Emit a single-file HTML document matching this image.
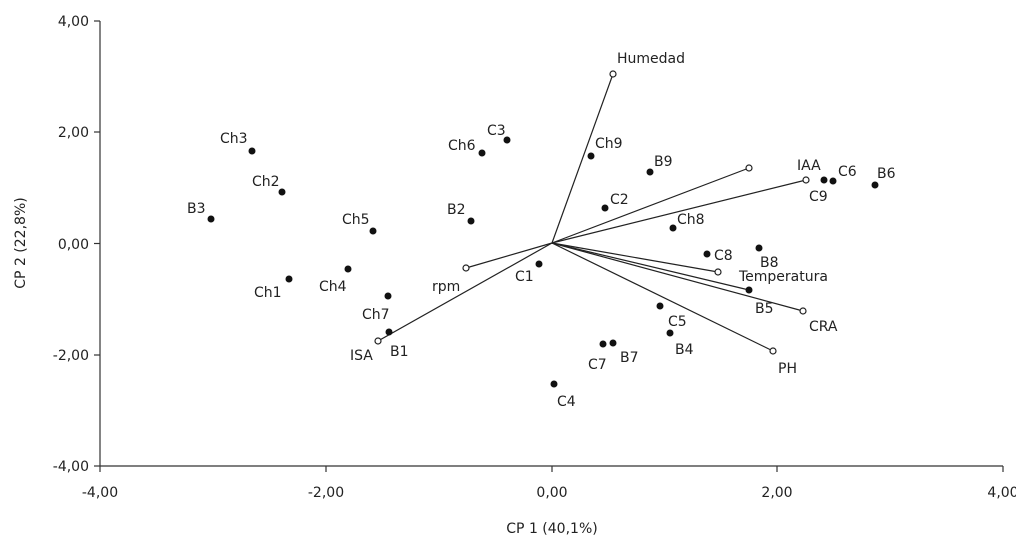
<!DOCTYPE html>
<html><head><meta charset="utf-8"><style>
body{margin:0;background:#fff}
svg text{font-family:"DejaVu Sans","Liberation Sans",sans-serif;font-size:14px;fill:#222}
</style></head><body>
<svg width="1016" height="551" viewBox="0 0 1016 551" xmlns="http://www.w3.org/2000/svg">
<g stroke="#333" stroke-width="1.2" fill="none">
<line x1="100" y1="21" x2="100" y2="466"/>
<line x1="100" y1="466" x2="1003" y2="466"/>
<line x1="94" y1="21" x2="100" y2="21"/>
<line x1="94" y1="132" x2="100" y2="132"/>
<line x1="94" y1="243.5" x2="100" y2="243.5"/>
<line x1="94" y1="355" x2="100" y2="355"/>
<line x1="94" y1="466" x2="100" y2="466"/>
<line x1="100" y1="466" x2="100" y2="472"/>
<line x1="326" y1="466" x2="326" y2="472"/>
<line x1="552" y1="466" x2="552" y2="472"/>
<line x1="777" y1="466" x2="777" y2="472"/>
<line x1="1003" y1="466" x2="1003" y2="472"/>
</g>
<g text-anchor="end">
<text x="89" y="26">4,00</text><text x="89" y="137">2,00</text><text x="89" y="249">0,00</text><text x="89" y="360">-2,00</text><text x="89" y="471">-4,00</text>
</g>
<g text-anchor="middle">
<text x="100" y="497">-4,00</text><text x="326" y="497">-2,00</text><text x="552" y="497">0,00</text><text x="777" y="497">2,00</text><text x="1003" y="497">4,00</text>
<text x="552" y="533">CP 1 (40,1%)</text>
<text transform="translate(25,243) rotate(-90)">CP 2 (22,8%)</text>
</g>
<g stroke="#222" stroke-width="1.2">
<line x1="552" y1="243" x2="613" y2="74"/>
<line x1="552" y1="243" x2="749" y2="168"/>
<line x1="552" y1="243" x2="806" y2="180"/>
<line x1="552" y1="243" x2="718" y2="272"/>
<line x1="552" y1="243" x2="803" y2="311"/>
<line x1="552" y1="243" x2="749" y2="290"/>
<line x1="552" y1="243" x2="773" y2="351"/>
<line x1="552" y1="243" x2="466" y2="268"/>
<line x1="552" y1="243" x2="378" y2="341"/>
</g>
<g fill="#fff" stroke="#222" stroke-width="1.2">
<circle cx="613" cy="74" r="3"/><circle cx="749" cy="168" r="3"/><circle cx="806" cy="180" r="3"/><circle cx="718" cy="272" r="3"/><circle cx="803" cy="311" r="3"/><circle cx="773" cy="351" r="3"/><circle cx="466" cy="268" r="3"/><circle cx="378" cy="341" r="3"/>
</g>
<g fill="#111">
<circle cx="252" cy="151" r="3.5"/><circle cx="282" cy="192" r="3.5"/><circle cx="211" cy="219" r="3.5"/><circle cx="373" cy="231" r="3.5"/><circle cx="289" cy="279" r="3.5"/><circle cx="348" cy="269" r="3.5"/><circle cx="388" cy="296" r="3.5"/><circle cx="389" cy="332" r="3.5"/><circle cx="539" cy="264" r="3.5"/><circle cx="471" cy="221" r="3.5"/><circle cx="482" cy="153" r="3.5"/><circle cx="507" cy="140" r="3.5"/><circle cx="591" cy="156" r="3.5"/><circle cx="650" cy="172" r="3.5"/><circle cx="605" cy="208" r="3.5"/><circle cx="673" cy="228" r="3.5"/><circle cx="824" cy="180" r="3.5"/><circle cx="833" cy="181" r="3.5"/><circle cx="875" cy="185" r="3.5"/><circle cx="707" cy="254" r="3.5"/><circle cx="759" cy="248" r="3.5"/><circle cx="749" cy="290" r="3.5"/><circle cx="660" cy="306" r="3.5"/><circle cx="670" cy="333" r="3.5"/><circle cx="603" cy="344" r="3.5"/><circle cx="613" cy="343" r="3.5"/><circle cx="554" cy="384" r="3.5"/>
</g>
<g>
<text x="220" y="143">Ch3</text><text x="252" y="186">Ch2</text><text x="187" y="213">B3</text><text x="342" y="224">Ch5</text><text x="254" y="297">Ch1</text><text x="319" y="291">Ch4</text><text x="362" y="319">Ch7</text><text x="390" y="356">B1</text><text x="350" y="360">ISA</text><text x="432" y="291">rpm</text><text x="515" y="281">C1</text><text x="447" y="214">B2</text><text x="448" y="150">Ch6</text><text x="487" y="135">C3</text><text x="617" y="63">Humedad</text><text x="595" y="148">Ch9</text><text x="654" y="166">B9</text><text x="610" y="204">C2</text><text x="677" y="224">Ch8</text><text x="797" y="170">IAA</text><text x="809" y="201">C9</text><text x="838" y="176">C6</text><text x="877" y="178">B6</text><text x="714" y="260">C8</text><text x="760" y="267">B8</text><text x="739" y="281">Temperatura</text><text x="755" y="313">B5</text><text x="809" y="331">CRA</text><text x="668" y="326">C5</text><text x="675" y="354">B4</text><text x="588" y="369">C7</text><text x="620" y="362">B7</text><text x="778" y="373">PH</text><text x="557" y="406">C4</text>
</g>
</svg>
</body></html>
